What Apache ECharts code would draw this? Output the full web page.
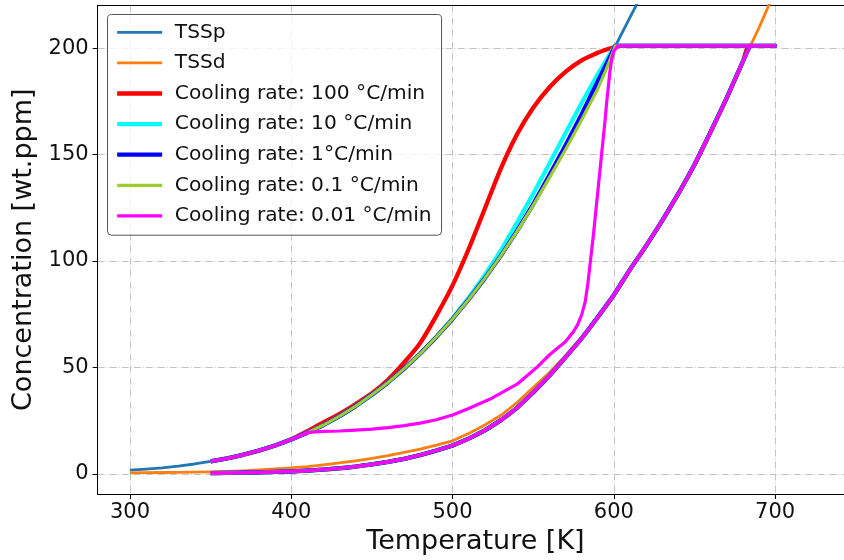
<!DOCTYPE html>
<html>
<head>
<meta charset="utf-8">
<script src="https://cdn.jsdelivr.net/npm/echarts@6/dist/echarts.min.js"></script>
<style>
  html, body { margin: 0; padding: 0; background: #fff; }
  #chart { width: 844px; height: 560px; }
</style>
</head>
<body>
<div id="chart"></div>
<script>
// Terminal solid solubility for precipitation (TSSp), wt.ppm vs K
const tsspT = [300,310,320,330,340,350,360,370,380,390,400,410,420,430,440,450,460,470,480,490,500,510,520,530,540,550,560,570,580,590,600,610,620,630];
const tsspC = [1.7,2.2,2.8,3.6,4.6,5.8,7.2,8.9,10.9,13.3,16.1,19.3,22.9,27.1,31.8,37.1,42.9,49.4,56.5,64.3,72.7,81.9,91.8,102.5,113.9,126.1,139.2,153.0,167.7,183.2,199.5,214.4,229.0,244.0];

// Terminal solid solubility for dissolution (TSSd)
const tssdT = [300,310,320,330,340,350,360,370,380,390,400,410,420,430,440,450,460,470,480,490,500,510,520,530,540,550,560,570,580,590,600,610,620,630,640,650,660,670,680,690,700];
const tssdC = [0.4,0.5,0.6,0.7,0.8,0.9,1.1,1.4,1.8,2.3,2.8,3.4,4.2,5.1,6.1,7.2,8.5,10.0,11.6,13.5,15.5,18.9,22.9,27.5,33.5,40.5,47.5,55.5,64.0,73.8,84.0,95.9,107.1,118.9,131.6,145.2,160.6,176.6,193.7,209.5,227.0];

// Heating branch shared by every cycle (350 K -> 700 K)
const heatT = [350,360,370,380,390,400,410,420,430,440,450,460,470,480,490,500,510,520,530,540,550,560,570,580,590,600,610,620,630,640,650,660,670,680,684.4,700];
const heatC = [0.3,0.4,0.5,0.7,0.9,1.1,1.5,2.0,2.6,3.4,4.4,5.6,7.0,8.8,10.9,13.3,16.5,20.4,25.2,31.0,38.2,46.0,54.7,63.6,73.5,84.0,95.9,107.1,118.9,131.6,145.2,160.6,176.6,193.7,201,201];

// Cooling branches (700 K -> 350 K), one per cooling rate
const cool100T = [700,604,600,595,590,580,570,560,550,540,530,520,510,500,490,480,470,460,450,440,430,420,410,400,390,380,370,360,350];
const cool100C = [201,201,200.3,199.2,197.8,194.2,188.8,181.5,172.0,159.5,143.5,124.5,105.6,88.5,74.3,61.5,52.3,44.2,37.8,32.8,28.2,24.2,20.0,16.2,13.3,10.9,8.9,7.2,5.8];

const coolT = [700,600.8,598,595,590,580,570,560,550,540,530,520,510,500,490,480,470,460,450,440,430,420,410,400,390,380,370,360,350];
const cool10C = [201,201,197.8,194.0,187.7,174.2,160.0,145.7,131.6,118.0,105.0,93.3,82.7,73.0,64.3,56.5,49.4,42.9,37.1,31.8,27.1,22.9,19.3,16.1,13.3,10.9,8.9,7.2,5.8];
const cool1C = [201,201,196.5,192.0,184.3,168.8,154.2,140.2,126.6,114.1,102.5,91.8,81.9,72.7,64.3,56.5,49.4,42.9,37.1,31.8,27.1,22.9,19.3,16.1,13.3,10.9,8.9,7.2,5.8];
const cool01C = [201,201,195.2,189.5,180.8,166.2,152.2,139.0,126.1,113.9,102.5,91.8,81.9,72.7,64.3,56.5,49.4,42.9,37.1,31.8,27.1,22.9,19.3,16.1,13.3,10.9,8.9,7.2,5.8];

const cool001T = [700,602.5,601.5,600,598.6,597.5,596.6,595.5,594.6,592.5,591,589.4,587.3,585.5,584,582.3,580,577.5,575,570,565,560,552,540,530,523,510,500,490,480,470,460,450,440,430,420,413,410,400,390,380,370,360,350];
const cool001C = [201,201,200.3,198.5,194.4,188.5,182,174,166.4,150.9,139.5,127.6,112,100,90,81,74.5,70,66.8,62,59,55.8,49.8,42.1,37.9,35.0,30.7,27.6,25.4,23.8,22.6,21.7,21.0,20.5,20.1,19.9,19.6,19.3,16.1,13.3,10.9,8.9,7.2,5.8];

const xTicks = [300, 400, 500, 600, 700];
const yTicks = [0, 50, 100, 150, 200];

const FONT = 'DejaVu Sans';
const X_MIN = 280, X_MAX = 742.7, Y_MIN = -9.5, Y_MAX = 220;

function pairs(ts, cs) { return ts.map((t, i) => [t, cs[i]]); }
function cycle(ts, cs) { return pairs(heatT, heatC).concat(pairs(ts, cs)); }

function lineSeries(name, data, color, width, smooth) {
  return {
    name: name,
    type: 'line',
    data: data,
    symbol: 'none',
    smooth: smooth || false,
    clip: true,
    lineStyle: { color: color, width: width, join: 'round', cap: 'butt' },
    itemStyle: { color: color },
    emphasis: { disabled: true }
  };
}

const gridLine = { color: '#c4c4c4', width: 1, type: [7, 2, 1, 2] };

const chart = echarts.init(document.getElementById('chart'), null, { renderer: 'canvas' });
chart.setOption({
  animation: false,
  backgroundColor: '#fff',
  grid: { left: 97.7, right: 0, top: 5.5, bottom: 62.7 },
  xAxis: [
    {
      type: 'value', min: X_MIN, max: X_MAX,
      name: 'Temperature [K]', nameLocation: 'middle', nameGap: 34,
      nameTextStyle: { fontFamily: FONT, fontSize: 27, color: '#111', padding: [0, 0, 0, 9.2] },
      axisLine: { show: true, onZero: false, lineStyle: { color: '#000', width: 1 } },
      axisTick: { show: true, inside: false, length: 5, customValues: xTicks, lineStyle: { color: '#000', width: 1 } },
      axisLabel: { customValues: xTicks, fontFamily: FONT, fontSize: 21, color: '#111', margin: 8 },
      splitLine: { show: true, lineStyle: gridLine }
    },
    {
      // top frame edge
      type: 'value', position: 'top', min: X_MIN, max: X_MAX,
      axisLine: { show: true, onZero: false, lineStyle: { color: '#000', width: 1 } },
      axisTick: { show: false }, axisLabel: { show: false }, splitLine: { show: false }
    }
  ],
  yAxis: {
    type: 'value', min: Y_MIN, max: Y_MAX,
    name: 'Concentration [wt.ppm]', nameLocation: 'middle', nameGap: 50,
    nameTextStyle: { fontFamily: FONT, fontSize: 27, color: '#111' },
    axisLine: { show: true, onZero: false, lineStyle: { color: '#000', width: 1 } },
    axisTick: { show: true, inside: false, length: 5, customValues: yTicks, lineStyle: { color: '#000', width: 1 } },
    axisLabel: { customValues: yTicks, fontFamily: FONT, fontSize: 21, color: '#111', margin: 9 },
    splitLine: { show: true, lineStyle: gridLine }
  },
  legend: {
    orient: 'vertical', left: 107.5, top: 14.5,
    padding: [6.8, 10, 8.3, 7.5],
    itemGap: 8.6, itemWidth: 45, itemHeight: 14,
    backgroundColor: 'rgba(255,255,255,0.8)',
    borderColor: '#555', borderWidth: 1, borderRadius: 4,
    itemStyle: { opacity: 0 },
    lineStyle: { width: 'inherit' },
    textStyle: { fontFamily: FONT, fontSize: 20.2, color: '#111', lineHeight: 22, padding: [0, 0, 0, 7.7] },
    selectedMode: false
  },
  series: [
    lineSeries('TSSp', pairs(tsspT, tsspC), '#1f77b4', 2.8),
    lineSeries('TSSd', pairs(tssdT, tssdC), '#ff7f0e', 2.8),
    lineSeries('Cooling rate: 100 °C/min', cycle(cool100T, cool100C), '#ff0000', 4.3, 0.3),
    lineSeries('Cooling rate: 10 °C/min', cycle(coolT, cool10C), '#00ffff', 4.2),
    lineSeries('Cooling rate: 1°C/min', cycle(coolT, cool1C), '#0000ff', 4.2),
    lineSeries('Cooling rate: 0.1 °C/min', cycle(coolT, cool01C), '#9acd32', 3.2),
    lineSeries('Cooling rate: 0.01 °C/min', cycle(cool001T, cool001C), '#ff00ff', 3.2)
  ]
});
</script>
</body>
</html>
